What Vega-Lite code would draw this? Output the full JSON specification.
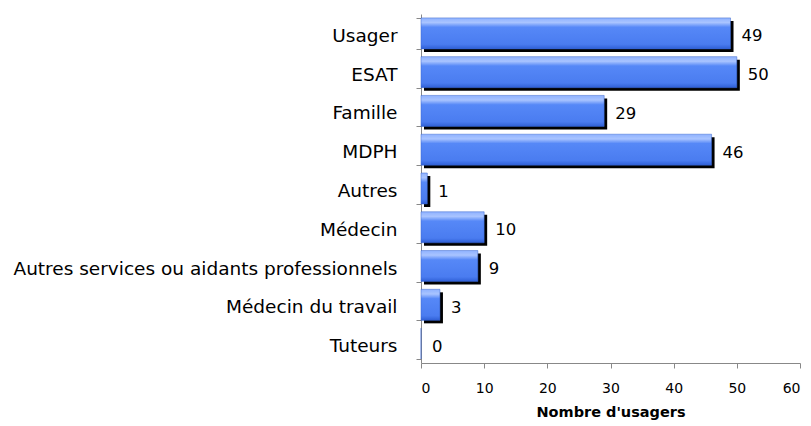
{
  "$schema": "https://vega.github.io/schema/vega-lite/v6.json",
  "width": 379,
  "height": 349,
  "autosize": {"type": "none"},
  "padding": {"left": 421, "top": 14, "right": 11, "bottom": 63},
  "background": "white",
  "config": {"view": {"stroke": null}, "font": "DejaVu Sans"},
  "data": {
    "values": [
      {"cat": "Usager", "n": 49},
      {"cat": "ESAT", "n": 50},
      {"cat": "Famille", "n": 29},
      {"cat": "MDPH", "n": 46},
      {"cat": "Autres", "n": 1},
      {"cat": "Médecin", "n": 10},
      {"cat": "Autres services ou aidants professionnels", "n": 9},
      {"cat": "Médecin du travail", "n": 3},
      {"cat": "Tuteurs", "n": 0}
    ]
  },
  "encoding": {
    "y": {
      "field": "cat",
      "type": "nominal",
      "sort": null,
      "scale": {"paddingInner": 0.2, "paddingOuter": 0.1},
      "axis": {
        "title": null,
        "domainColor": "#888888",
        "tickColor": "#888888",
        "tickBand": "extent",
        "tickSize": 5,
        "labelPadding": 19,
        "labelFontSize": 18.5,
        "labelColor": "#000000",
        "labelFont": "DejaVu Sans",
        "labelLimit": 500,
        "labelOffset": 2
      }
    },
    "x": {
      "field": "n",
      "type": "quantitative",
      "scale": {"domain": [0, 60], "nice": false},
      "axis": {
        "values": [0, 10, 20, 30, 40, 50, 60],
        "grid": false,
        "title": "Nombre d'usagers",
        "titleFont": "DejaVu Sans",
        "titleFontSize": 14.5,
        "titleFontWeight": "bold",
        "titleColor": "#000000",
        "titlePadding": 10,
        "domainColor": "#888888",
        "tickColor": "#888888",
        "tickSize": 5,
        "labelPadding": 13,
        "labelFontSize": 14,
        "labelFont": "DejaVu Sans",
        "labelColor": "#000000"
      }
    }
  },
  "layer": [
    {
      "mark": {"type": "bar", "color": "#000000", "xOffset": 3, "yOffset": 3},
      "encoding": {}
    },
    {
      "mark": {
        "type": "bar",
        "stroke": "#3a66cc",
        "strokeWidth": 0.5,
        "color": {
          "gradient": "linear",
          "x1": 0, "y1": 0, "x2": 0, "y2": 1,
          "stops": [
            {"offset": 0, "color": "#8fb2ff"},
            {"offset": 0.15, "color": "#a9c4ff"},
            {"offset": 0.3, "color": "#5688f7"},
            {"offset": 0.85, "color": "#4a7cf0"},
            {"offset": 1, "color": "#2f5fd6"}
          ]
        }
      },
      "encoding": {}
    },
    {
      "mark": {"type": "text", "align": "left", "dx": 11, "dy": 3, "fontSize": 16.5, "font": "DejaVu Sans", "color": "#000000"},
      "encoding": {"text": {"field": "n", "type": "quantitative"}}
    }
  ]
}
